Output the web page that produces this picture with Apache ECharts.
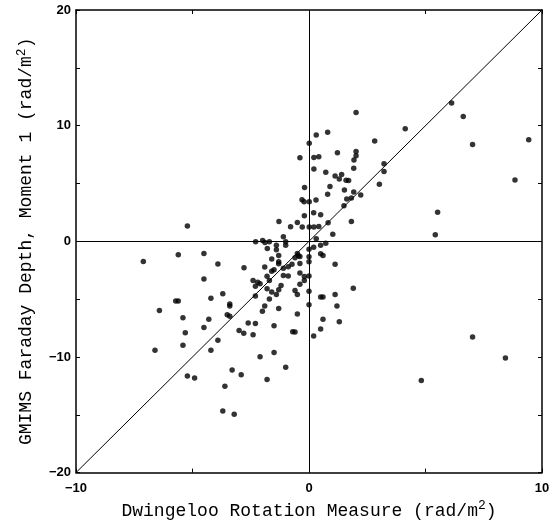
<!DOCTYPE html>
<html>
<head>
<meta charset="utf-8">
<script src="https://cdn.jsdelivr.net/npm/echarts@6/dist/echarts.min.js"></script>
<style>
html,body{margin:0;padding:0;background:#fff;}
#chart{width:553px;height:525px;}
</style>
</head>
<body>
<div id="chart"></div>
<script>
// Dwingeloo RM (x) vs GMIMS Faraday depth, moment 1 (y), rad/m^2
const points = [
  [2.02,11.14],[0.31,9.19],[0.80,9.42],[0.01,8.48],[2.82,8.68],[-0.39,7.23],[0.21,7.25],[0.42,7.31],
  [1.22,7.65],[2.02,7.77],[2.02,7.40],[1.93,7.02],[0.21,6.25],[1.92,6.31],[3.22,6.71],[3.22,6.03],
  [0.72,5.97],[1.12,5.65],[1.40,5.77],[1.30,5.39],[1.59,5.28],[1.70,5.26],[3.02,4.94],[-0.19,4.66],
  [0.90,4.74],[1.52,4.43],[1.92,4.26],[0.80,4.06],[2.22,4.00],[1.62,3.66],[1.82,3.74],[-0.30,3.60],
  [-0.21,3.42],[0.01,3.42],[0.30,3.57],[1.50,3.08],[-0.20,2.20],[0.20,2.46],[0.50,2.29],[-1.29,1.71],
  [-0.50,1.63],[-0.79,1.26],[-0.29,1.23],[0.01,1.23],[0.21,1.23],[0.42,1.29],[0.82,1.60],[1.82,1.71],
  [-1.10,0.40],[1.02,0.60],[0.31,0.21],
  [6.12,11.96],[6.62,10.79],[4.13,9.73],[7.02,8.36],[9.43,8.77],[8.84,5.31],[5.52,2.52],[5.42,0.57],
  [0.72,-0.17],[0.50,-0.34],[0.20,-0.51],[0.00,-0.68],[0.50,-1.08],[0.60,-1.22],[1.12,-1.99],[-0.39,-1.31],
  [0.00,-1.34],[-0.39,-1.91],[0.00,-1.76],[-0.39,-2.74],[-0.20,-3.05],[0.00,-3.00],[-0.20,-3.39],[-0.39,-3.71],
  [1.90,-4.05],[0.00,-4.31],[0.50,-4.82],[0.60,-4.82],[1.12,-4.59],[1.20,-5.59],[0.00,-5.48],[0.60,-6.73],
  [1.30,-6.96],[0.50,-7.59],[0.20,-8.19],[7.02,-8.27],[8.43,-10.10],[4.82,-12.04],
  [-2.29,-0.03],[-1.99,0.06],[-1.89,-0.11],[-1.70,-0.03],[-1.00,-0.03],[-1.00,-0.34],[-1.79,-0.63],[-1.40,-0.34],
  [-1.40,-0.74],[-1.30,-1.22],[-1.60,-1.54],[-1.30,-1.76],[-1.30,-1.94],[-0.50,-1.05],[-0.46,-1.25],[-0.60,-1.42],
  [-0.73,-1.99],[-0.89,-2.19],[-1.10,-2.34],[-1.90,-2.22],[-1.50,-2.45],[-1.60,-2.59],[-2.79,-2.28],[-3.91,-1.97],
  [-4.51,-1.05],[-4.51,-3.25],[-1.80,-3.02],[-1.70,-3.39],[-1.10,-2.96],[-0.89,-3.00],[-2.40,-3.39],[-2.20,-3.54],
  [-2.10,-3.68],[-2.30,-3.88],[-1.60,-4.39],[-1.80,-4.11],[-1.30,-4.19],[-1.20,-3.82],[-1.40,-4.59],[-1.70,-4.99],
  [-1.90,-5.59],[-2.00,-6.05],[-1.30,-5.82],[-2.30,-4.73],[-3.70,-4.53],[-4.21,-4.93],[-3.40,-5.42],[-3.40,-5.59],
  [-0.60,-4.25],[-0.50,-4.59],[-0.50,-6.28],[-3.51,-6.36],[-3.40,-6.48],[-4.30,-6.73],[-4.51,-7.45],[-2.61,-7.07],
  [-2.30,-7.10],[-1.50,-7.30],[-3.00,-7.71],[-2.80,-7.96],[-2.40,-8.07],[-0.70,-7.82],[-0.60,-7.84],[-3.91,-8.56],
  [-2.10,-9.98],[-1.50,-9.62],[-1.00,-10.90],[-5.22,-11.64],[-4.91,-11.81],[-3.30,-11.13],[-2.91,-11.53],[-3.61,-12.53],
  [-1.80,-11.95],[-3.70,-14.67],[-3.21,-14.95],[-7.11,-1.74],[-5.61,-1.17],[-5.72,-5.16],[-5.61,-5.16],[-6.42,-5.99],
  [-5.41,-6.62],[-5.31,-7.90],[-5.41,-8.99],[-6.61,-9.42],[-5.22,1.32],[-4.21,-9.42]
];
const diagonal = [[-10,-20],[10,20]];
const xRange = [-10, 10];
const yRange = [-20, 20];
const xLabelValues = [-10, 0, 10];
const yLabelValues = [-20, -10, 0, 10, 20];
const xTitle = 'Dwingeloo Rotation Measure (rad/m';
const yTitle = 'GMIMS Faraday Depth, Moment 1 (rad/m';

const fmtNum = v => (v < 0 ? '\u2212' + Math.abs(v) : String(v));
const labelStyle = {color:'#000', fontFamily:'Liberation Sans, Arial, sans-serif', fontWeight:'bold', fontSize:13};
const nameRich = {
  a:{fontFamily:'Liberation Mono, monospace', fontSize:18, color:'#000'},
  s:{fontFamily:'Liberation Mono, monospace', fontSize:13, color:'#000', padding:[0,0,10,0]}
};

const chart = echarts.init(document.getElementById('chart'), null, {renderer:'canvas'});
const commonX = {
  type:'value', min:xRange[0], max:xRange[1], interval:5,
  splitLine:{show:false},
  axisLine:{show:true, onZero:false, lineStyle:{color:'#000', width:1.5}},
  axisTick:{show:true, inside:true, length:4, lineStyle:{color:'#000'}}
};
const commonY = {
  type:'value', min:yRange[0], max:yRange[1], interval:5,
  splitLine:{show:false},
  axisLine:{show:true, onZero:false, lineStyle:{color:'#000', width:1.5}},
  axisTick:{show:true, inside:true, length:4, lineStyle:{color:'#000'}}
};
chart.setOption({
  animation:false,
  backgroundColor:'#fff',
  grid:{left:76, right:11, top:10, bottom:48},
  xAxis:[
    Object.assign({}, commonX, {
      position:'bottom',
      name:'{a|' + xTitle + '}{s|2}{a|)}',
      nameLocation:'middle', nameGap:24,
      nameTextStyle:{rich:nameRich},
      axisLabel:Object.assign({}, labelStyle, {margin:9,
        formatter:v => xLabelValues.indexOf(v) >= 0 ? fmtNum(v) : ''})
    }),
    Object.assign({}, commonX, {position:'top', axisLabel:{show:false}})
  ],
  yAxis:[
    Object.assign({}, commonY, {
      position:'left',
      name:'{a|' + yTitle + '}{s|2}{a|)}',
      nameLocation:'middle', nameGap:38,
      nameTextStyle:{rich:nameRich},
      axisLabel:Object.assign({}, labelStyle, {margin:5,
        formatter:v => yLabelValues.indexOf(v) >= 0 ? fmtNum(v) : ''})
    }),
    Object.assign({}, commonY, {position:'right', axisLabel:{show:false}})
  ],
  series:[
    {
      type:'line', data:diagonal, symbol:'none', silent:true,
      lineStyle:{color:'#000', width:1},
      markLine:{
        silent:true, symbol:'none', label:{show:false},
        lineStyle:{color:'#000', width:1, type:'solid'},
        data:[{xAxis:0},{yAxis:0}]
      }
    },
    {
      type:'scatter', data:points, symbol:'circle', symbolSize:5.5,
      itemStyle:{color:'#000'}
    }
  ]
});
</script>
</body>
</html>
